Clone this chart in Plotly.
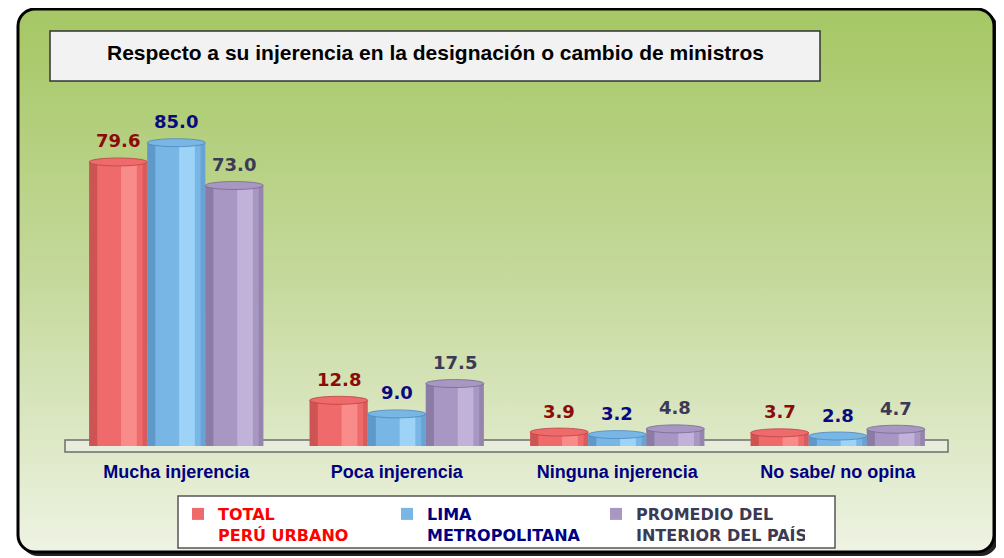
import base64
import plotly.graph_objects as go

categories = ["Mucha injerencia", "Poca injerencia", "Ninguna injerencia", "No sabe/ no opina"]
total_peru = [79.6, 12.8, 3.9, 3.7]
lima = [85.0, 9.0, 3.2, 2.8]
interior = [73.0, 17.5, 4.8, 4.7]
series_names = [
    '<span style="color:#ff0000">TOTAL<br>PERÚ URBANO</span>',
    '<span style="color:#000080">LIMA<br>METROPOLITANA</span>',
    '<span style="color:#3c3a52">PROMEDIO DEL<br>INTERIOR DEL PAÍS</span>',
]
title_text = "Respecto a su injerencia en la designación o cambio de ministros"

# page body has an 8px margin, so the figure is sized to the visible area
OFF = 8
W, H = 1004 - OFF, 558 - OFF
BARGAP = 0.21

# base, highlight, shadow, label colour per series
styles = [
    ("#ef6a6a", "#ff9a9a", "#b84545", "#8b0a0a"),
    ("#78b6e6", "#aee0ff", "#4f86b8", "#0a0a80"),
    ("#a797c2", "#cbbde3", "#786a92", "#3d3a55"),
]

# green gradient panel with rounded frame, as an svg background image
svg = f'''<svg xmlns="http://www.w3.org/2000/svg" width="{W}" height="{H}" viewBox="0 0 {W} {H}" preserveAspectRatio="none">
<defs><linearGradient id="g" x1="0" y1="0" x2="0" y2="1">
<stop offset="0" stop-color="#a5c764"/><stop offset="0.5" stop-color="#c5d99c"/><stop offset="1" stop-color="#eef3e3"/>
</linearGradient></defs>
<rect x="13" y="4" width="977" height="544" rx="17" fill="#222"/>
<rect x="10" y="1" width="976" height="543" rx="17" fill="url(#g)" stroke="#000" stroke-width="3"/>
</svg>'''
bg_src = "data:image/svg+xml;base64," + base64.b64encode(svg.encode()).decode()


def px(x):
    # window pixel -> paper fraction
    return (x - OFF) / W


def py(y):
    return (558 - y) / H


fig = go.Figure()
all_series = [total_peru, lima, interior]
for name, vals, st in zip(series_names, all_series, styles):
    fig.add_trace(go.Bar(x=categories, y=vals, name=name,
                         marker=dict(color=st[0], line=dict(width=0)),
                         hoverinfo="skip"))

shapes = []
annotations = []

# floor slab
shapes.append(dict(type="rect", xref="paper", yref="paper",
                   x0=px(65), x1=px(948), y0=py(452), y1=py(440),
                   fillcolor="#e8eddb", line=dict(color="#6e6e6e", width=1.5),
                   layer="below"))

gw = 1 - BARGAP
bw = gw / 3
for k, (vals, st) in enumerate(zip(all_series, styles)):
    for i, v in enumerate(vals):
        c = i - gw / 2 + (k + 0.5) * bw
        left, right = c - bw / 2, c + bw / 2
        # shaded edges and highlight band for a cylinder look
        shapes.append(dict(type="rect", xref="x", yref="y",
                           x0=left, x1=left + bw * 0.14, y0=0, y1=v,
                           fillcolor=st[2], opacity=0.6, line=dict(width=0)))
        shapes.append(dict(type="rect", xref="x", yref="y",
                           x0=c + bw * 0.05, x1=c + bw * 0.32, y0=0, y1=v,
                           fillcolor=st[1], opacity=0.7, line=dict(width=0)))
        shapes.append(dict(type="rect", xref="x", yref="y",
                           x0=right - bw * 0.08, x1=right, y0=0, y1=v,
                           fillcolor=st[2], opacity=0.4, line=dict(width=0)))
        # top cap
        shapes.append(dict(type="circle", xref="x", yref="y", ysizemode="pixel",
                           yanchor=v, y0=-4, y1=4, x0=left, x1=right,
                           fillcolor=st[0], line=dict(color=st[2], width=0.8)))
        annotations.append(dict(x=c, y=v, xref="x", yref="y", yshift=21,
                                text="%.1f" % v, showarrow=False,
                                font=dict(family="DejaVu Sans", size=18,
                                          color=st[3], weight="bold")))

# title box
shapes.append(dict(type="rect", xref="paper", yref="paper",
                   x0=px(50), x1=px(820), y0=py(81), y1=py(31),
                   fillcolor="#f2f2f2", line=dict(color="#333", width=1.5),
                   layer="below"))
annotations.append(dict(x=px(435), y=py(53), xref="paper", yref="paper",
                        xanchor="center", yanchor="middle",
                        text=title_text, showarrow=False,
                        font=dict(family="Liberation Sans", size=21,
                                  color="#000", weight="bold")))

# legend box
shapes.append(dict(type="rect", xref="paper", yref="paper",
                   x0=px(178), x1=px(835), y0=py(548), y1=py(496),
                   fillcolor="#ffffff", line=dict(color="#555", width=1.5),
                   layer="below"))

fig.update_layout(
    width=W, height=H,
    margin=dict(l=0, r=0, t=0, b=0),
    paper_bgcolor="#ffffff",
    plot_bgcolor="rgba(0,0,0,0)",
    barmode="group", bargap=BARGAP, bargroupgap=0,
    images=[dict(source=bg_src, xref="paper", yref="paper", x=0, y=1,
                 sizex=1, sizey=1, xanchor="left", yanchor="top",
                 sizing="stretch", layer="below")],
    shapes=shapes,
    annotations=annotations,
    xaxis=dict(domain=[px(66), px(948)], showline=False, showgrid=False,
               zeroline=False, ticks="", ticklabelstandoff=13,
               tickfont=dict(family="Liberation Sans", size=18,
                             color="#000080", weight="bold")),
    yaxis=dict(domain=[py(446), py(107)], range=[0, 95], visible=False),
    showlegend=True,
    legend=dict(orientation="h", x=px(178), y=py(497), xanchor="left",
                yanchor="top", entrywidth=164, valign="top",
                bgcolor="rgba(0,0,0,0)", borderwidth=0,
                font=dict(family="DejaVu Sans", size=16, weight="bold"),
                itemclick=False, itemdoubleclick=False),
)

fig.write_html("out.html")
